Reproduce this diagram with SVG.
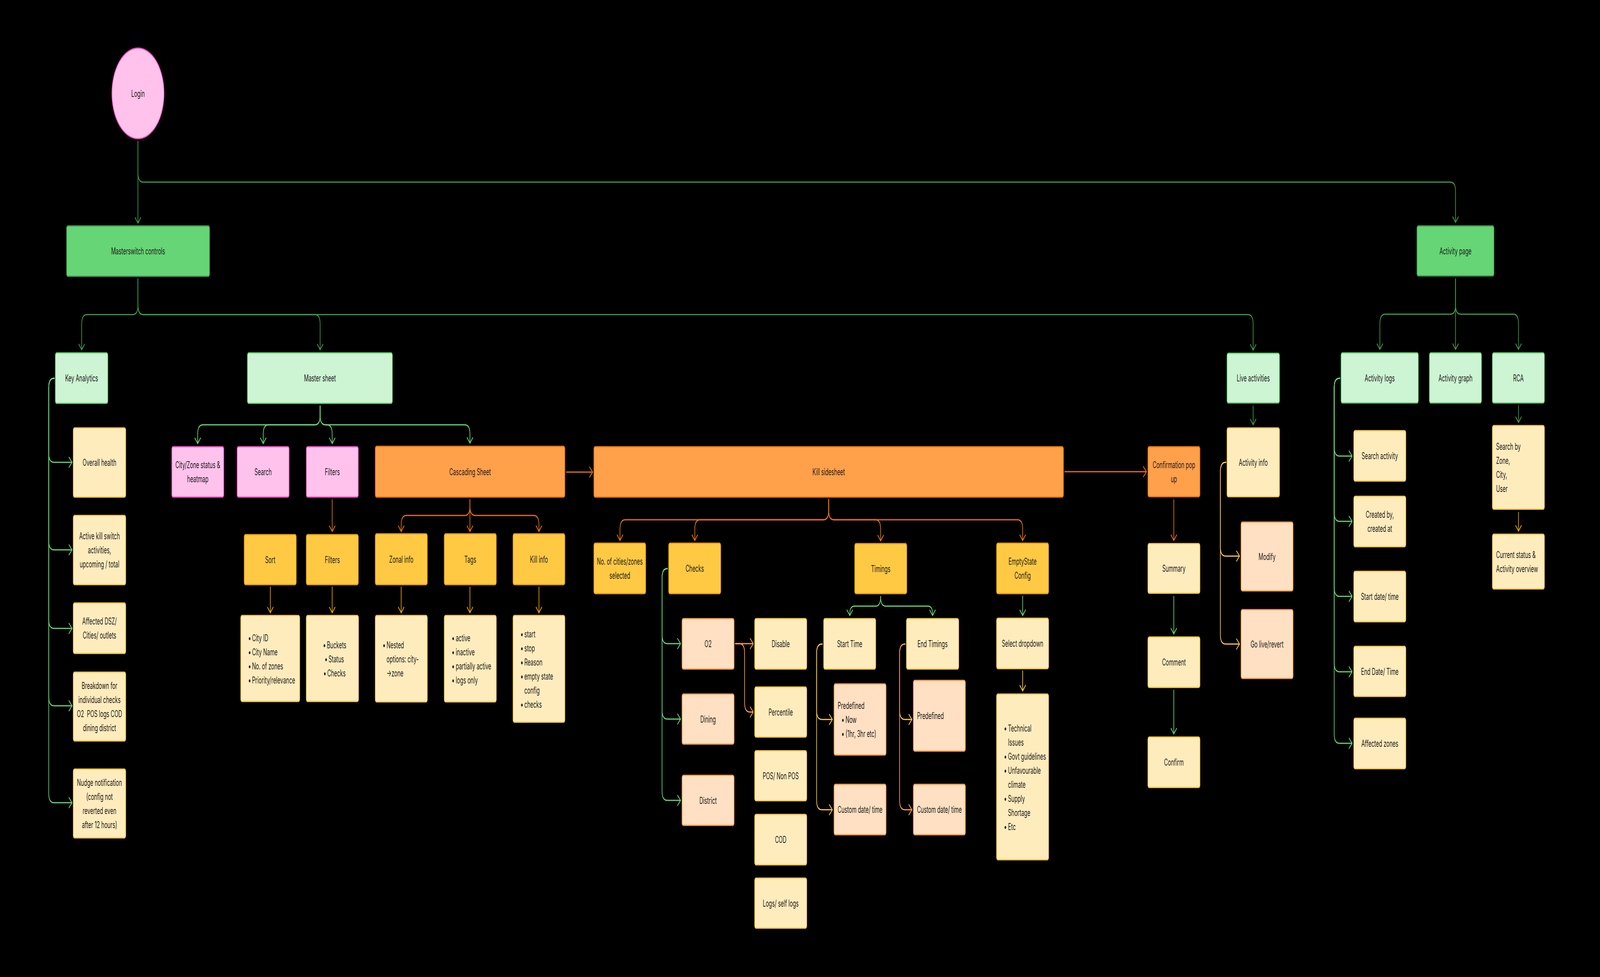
<svg xmlns="http://www.w3.org/2000/svg" width="7422" height="2500" viewBox="0 0 7422 2500" preserveAspectRatio="none">
<style>
svg{width:100vw;height:100vh;display:block}
text{font-family:Inter,"Noto Sans","Liberation Sans",sans-serif;font-size:24px;fill:#1e1e1e;dominant-baseline:central}
.c{text-anchor:middle}
.box{stroke-width:3}
.g{fill:#66D575;stroke:#3E9B4B}
.lg{fill:#CDF4D3;stroke:#66D575}
.pk{fill:#FFC2EC;stroke:#F849C1}
.or{fill:#FFA04A;stroke:#EB7500}
.ye{fill:#FFC943;stroke:#E8A302}
.ly{fill:#FFECBD;stroke:#FFC943}
.lo{fill:#FFE0C2;stroke:#FF9E42}
.ln{fill:none;stroke-width:3;stroke-linecap:round;stroke-linejoin:round}
.dg{stroke:#3E9B4B;marker-end:url(#m-dg)}
.lgc{stroke:#66D575;marker-end:url(#m-lg)}
.orc{stroke:#EB7500;marker-end:url(#m-or)}
.loc{stroke:#FF9E42;marker-end:url(#m-lo)}
.yec{stroke:#FFC943;marker-end:url(#m-ye)}
.amc{stroke:#E8A302;marker-end:url(#m-am)}
</style>
<defs>
<marker id="m-dg" markerUnits="userSpaceOnUse" markerWidth="34" markerHeight="34" refX="17" refY="15" orient="auto" overflow="visible"><path d="M3,2 L17,15 L3,28" fill="none" stroke="#3E9B4B" stroke-width="3" stroke-linecap="round" stroke-linejoin="round"/></marker>
<marker id="m-lg" markerUnits="userSpaceOnUse" markerWidth="34" markerHeight="34" refX="17" refY="15" orient="auto" overflow="visible"><path d="M3,2 L17,15 L3,28" fill="none" stroke="#66D575" stroke-width="3" stroke-linecap="round" stroke-linejoin="round"/></marker>
<marker id="m-or" markerUnits="userSpaceOnUse" markerWidth="34" markerHeight="34" refX="17" refY="15" orient="auto" overflow="visible"><path d="M3,2 L17,15 L3,28" fill="none" stroke="#EB7500" stroke-width="3" stroke-linecap="round" stroke-linejoin="round"/></marker>
<marker id="m-lo" markerUnits="userSpaceOnUse" markerWidth="34" markerHeight="34" refX="17" refY="15" orient="auto" overflow="visible"><path d="M3,2 L17,15 L3,28" fill="none" stroke="#FF9E42" stroke-width="3" stroke-linecap="round" stroke-linejoin="round"/></marker>
<marker id="m-ye" markerUnits="userSpaceOnUse" markerWidth="34" markerHeight="34" refX="17" refY="15" orient="auto" overflow="visible"><path d="M3,2 L17,15 L3,28" fill="none" stroke="#FFC943" stroke-width="3" stroke-linecap="round" stroke-linejoin="round"/></marker>
<marker id="m-am" markerUnits="userSpaceOnUse" markerWidth="34" markerHeight="34" refX="17" refY="15" orient="auto" overflow="visible"><path d="M3,2 L17,15 L3,28" fill="none" stroke="#E8A302" stroke-width="3" stroke-linecap="round" stroke-linejoin="round"/></marker>
</defs>
<rect x="0" y="0" width="7422" height="2500" fill="#000000"/>

<g id="connectors">
<path class="ln dg" d="M640,362 V571"/>
<path class="ln dg" d="M640,362 V442 Q640,466 664,466 H6728 Q6752,466 6752,490 V569"/>
<path class="ln dg" d="M640,714 V781 Q640,805 616,805 H403 Q379,805 379,829 V895"/>
<path class="ln dg" d="M640,714 V781 Q640,805 664,805 H1461 Q1485,805 1485,829 V895"/>
<path class="ln dg" d="M640,714 V781 Q640,805 664,805 H5789 Q5813,805 5813,829 V896"/>
<path class="ln dg" d="M6752,714 V780 Q6752,804 6728,804 H6425 Q6401,804 6401,828 V894"/>
<path class="ln dg" d="M6752,714 V894"/>
<path class="ln dg" d="M6752,714 V780 Q6752,804 6776,804 H7020 Q7044,804 7044,828 V894"/>
<path class="ln dg" d="M5813,1039 V1087"/>
<path class="ln dg" d="M7044,1038 V1081"/>
<path class="ln lgc" d="M252,968 H250 Q226,968 226,992 V1159 Q226,1183 250,1183 H334"/>
<path class="ln lgc" d="M252,968 H250 Q226,968 226,992 V1383 Q226,1407 250,1407 H334"/>
<path class="ln lgc" d="M252,968 H250 Q226,968 226,992 V1584 Q226,1608 250,1608 H334"/>
<path class="ln lgc" d="M252,968 H250 Q226,968 226,992 V1782 Q226,1806 250,1806 H334"/>
<path class="ln lgc" d="M252,968 H250 Q226,968 226,992 V2030 Q226,2054 250,2054 H334"/>
<path class="ln lgc" d="M1485,1039 V1063 Q1485,1087 1461,1087 H941 Q917,1087 917,1111 V1135"/>
<path class="ln lgc" d="M1485,1039 V1063 Q1485,1087 1461,1087 H1245 Q1221,1087 1221,1111 V1135"/>
<path class="ln lgc" d="M1485,1039 V1063 Q1485,1087 1509,1087 H1517 Q1541,1087 1541,1111 V1135"/>
<path class="ln lgc" d="M1485,1039 V1063 Q1485,1087 1509,1087 H2156 Q2180,1087 2180,1111 V1134"/>
<path class="ln lgc" d="M3096,1455 H3095 Q3071,1455 3071,1479 V1623 Q3071,1647 3095,1647 H3157"/>
<path class="ln lgc" d="M3096,1455 H3095 Q3071,1455 3071,1479 V1816 Q3071,1840 3095,1840 H3157"/>
<path class="ln lgc" d="M3096,1455 H3095 Q3071,1455 3071,1479 V2024 Q3071,2048 3095,2048 H3157"/>
<path class="ln lgc" d="M4085,1526 Q4085,1551 4062,1551 H3964 Q3942,1551 3942,1571 V1575"/>
<path class="ln lgc" d="M4085,1526 Q4085,1551 4108,1551 H4304 Q4326,1551 4326,1571 V1575"/>
<path class="ln lgc" d="M4744,1525 V1575"/>
<path class="ln lgc" d="M5445,1526 V1622"/>
<path class="ln lgc" d="M5445,1766 V1878"/>
<path class="ln lgc" d="M6215,968 H6213 Q6189,968 6189,992 V1143 Q6189,1167 6213,1167 H6272"/>
<path class="ln lgc" d="M6215,968 H6213 Q6189,968 6189,992 V1310 Q6189,1334 6213,1334 H6272"/>
<path class="ln lgc" d="M6215,968 H6213 Q6189,968 6189,992 V1502 Q6189,1526 6213,1526 H6272"/>
<path class="ln lgc" d="M6215,968 H6213 Q6189,968 6189,992 V1695 Q6189,1719 6213,1719 H6272"/>
<path class="ln lgc" d="M6215,968 H6213 Q6189,968 6189,992 V1878 Q6189,1902 6213,1902 H6272"/>
<path class="ln orc" d="M1541,1279 V1360"/>
<path class="ln orc" d="M2627,1208 H2749"/>
<path class="ln orc" d="M2180,1279 V1295 Q2180,1319 2156,1319 H1885 Q1861,1319 1861,1343 V1360"/>
<path class="ln orc" d="M2180,1279 V1360"/>
<path class="ln orc" d="M2180,1279 V1295 Q2180,1319 2204,1319 H2476 Q2500,1319 2500,1343 V1360"/>
<path class="ln orc" d="M3844,1278 V1306 Q3844,1330 3820,1330 H2900 Q2876,1330 2876,1354 V1383"/>
<path class="ln orc" d="M3844,1278 V1306 Q3844,1330 3820,1330 H3247 Q3223,1330 3223,1354 V1383"/>
<path class="ln orc" d="M3844,1278 V1306 Q3844,1330 3868,1330 H4061 Q4085,1330 4085,1354 V1384"/>
<path class="ln orc" d="M3844,1278 V1306 Q3844,1330 3868,1330 H4720 Q4744,1330 4744,1354 V1383"/>
<path class="ln orc" d="M4939,1207 H5318"/>
<path class="ln orc" d="M5445,1279 V1383"/>
<path class="ln loc" d="M3411,1647 H3494"/>
<path class="ln loc" d="M3411,1647 H3430 Q3454,1647 3454,1671 V1798 Q3454,1822 3478,1822 H3494"/>
<path class="ln yec" d="M3814,1648 H3812 Q3788,1648 3788,1672 V1817 Q3788,1841 3812,1841 H3861"/>
<path class="ln yec" d="M3814,1648 H3812 Q3788,1648 3788,1672 V2048 Q3788,2072 3812,2072 H3861"/>
<path class="ln yec" d="M4199,1648 H4197 Q4173,1648 4173,1672 V1817 Q4173,1841 4197,1841 H4230"/>
<path class="ln loc" d="M4199,1648 H4197 Q4173,1648 4173,1672 V2048 Q4173,2072 4197,2072 H4230"/>
<path class="ln yec" d="M4744,1717 V1768"/>
<path class="ln yec" d="M5687,1183 H5685 Q5661,1183 5661,1207 V1399 Q5661,1423 5685,1423 H5750"/>
<path class="ln yec" d="M5687,1183 H5685 Q5661,1183 5661,1207 V1624 Q5661,1648 5685,1648 H5750"/>
<path class="ln amc" d="M1254,1502 V1568"/>
<path class="ln amc" d="M1541,1502 V1568"/>
<path class="ln amc" d="M1861,1502 V1568"/>
<path class="ln amc" d="M2180,1502 V1568"/>
<path class="ln amc" d="M2500,1502 V1568"/>
<path class="ln amc" d="M7044,1311 V1359"/>
</g>

<g id="login"><ellipse class="box pk" cx="640" cy="239" rx="121" ry="116"/><text class="c" x="640" y="239">Login</text></g>
<g id="masterswitch"><rect class="box g" x="309" y="578" width="663" height="129" rx="6"/><text class="c" x="640.5" y="642.5">Masterswitch controls</text></g>

<g id="key-analytics"><rect class="box lg" x="257" y="903" width="243" height="129" rx="6"/><text class="c" x="378.5" y="967.5">Key Analytics</text></g>
<g id="overall-health"><rect class="box ly" x="340" y="1095" width="243" height="177" rx="6"/><text class="c" x="461.5" y="1183.5">Overall health</text></g>
<g id="active-kill"><rect class="box ly" x="340" y="1319" width="243" height="177" rx="6"/><text class="c" x="461.5"><tspan x="461.5" y="1371.5">Active kill switch</tspan><tspan x="461.5" y="1407.5">activities,</tspan><tspan x="461.5" y="1443.5">upcoming / total</tspan></text></g>
<g id="affected-dsz"><rect class="box ly" x="340" y="1543" width="243" height="129" rx="6"/><text class="c" x="461.5"><tspan x="461.5" y="1589.5">Affected DSZ/</tspan><tspan x="461.5" y="1625.5">Cities/ outlets</tspan></text></g>
<g id="breakdown"><rect class="box ly" x="340" y="1720" width="243" height="176" rx="6"/><text class="c" x="461.5" xml:space="preserve"><tspan x="461.5" y="1754">Breakdown for</tspan><tspan x="461.5" y="1790">individual checks</tspan><tspan x="461.5" y="1826">O2  POS logs COD</tspan><tspan x="461.5" y="1862">dining district</tspan></text></g>
<g id="nudge"><rect class="box ly" x="340" y="1968" width="243" height="176" rx="6"/><text class="c" x="461.5"><tspan x="461.5" y="2002">Nudge notification</tspan><tspan x="461.5" y="2038">(config not</tspan><tspan x="461.5" y="2074">reverted even</tspan><tspan x="461.5" y="2110">after 12 hours)</tspan></text></g>

<g id="master-sheet"><rect class="box lg" x="1148" y="903" width="672" height="129" rx="6"/><text class="c" x="1484" y="967.5">Master sheet</text></g>
<g id="city-zone"><rect class="box pk" x="797" y="1143" width="241" height="129" rx="6"/><text class="c" x="917.5"><tspan x="917.5" y="1189.5">City/Zone status &amp;</tspan><tspan x="917.5" y="1225.5">heatmap</tspan></text></g>
<g id="search"><rect class="box pk" x="1100" y="1143" width="241" height="129" rx="6"/><text class="c" x="1220.5" y="1207.5">Search</text></g>
<g id="filters-pink"><rect class="box pk" x="1421" y="1143" width="241" height="129" rx="6"/><text class="c" x="1541.5" y="1207.5">Filters</text></g>
<g id="cascading"><rect class="box or" x="1741" y="1142" width="879" height="130" rx="6"/><text class="c" x="2180.5" y="1207">Cascading Sheet</text></g>
<g id="sort"><rect class="box ye" x="1133" y="1368" width="241" height="128" rx="6"/><text class="c" x="1253.5" y="1432">Sort</text></g>
<g id="filters-yellow"><rect class="box ye" x="1421" y="1368" width="241" height="128" rx="6"/><text class="c" x="1541.5" y="1432">Filters</text></g>
<g id="zonal-info"><rect class="box ye" x="1741" y="1366" width="241" height="130" rx="6"/><text class="c" x="1861.5" y="1431">Zonal info</text></g>
<g id="tags"><rect class="box ye" x="2061" y="1366" width="241" height="130" rx="6"/><text class="c" x="2181.5" y="1431">Tags</text></g>
<g id="kill-info"><rect class="box ye" x="2380" y="1366" width="240" height="130" rx="6"/><text class="c" x="2500" y="1431">Kill info</text></g>

<g id="sort-list"><rect class="box ly" x="1117" y="1575" width="273" height="220" rx="6"/>
<text x="1151" y="1632">•</text><text x="1169" y="1632">City ID</text>
<text x="1151" y="1668">•</text><text x="1169" y="1668">City Name</text>
<text x="1151" y="1704">•</text><text x="1169" y="1704">No. of zones</text>
<text x="1151" y="1740">•</text><text x="1169" y="1740">Priority/relevance</text></g>
<g id="filters-list"><rect class="box ly" x="1421" y="1575" width="242" height="220" rx="6"/>
<text x="1498" y="1650">•</text><text x="1516" y="1650">Buckets</text>
<text x="1506" y="1686">•</text><text x="1524" y="1686">Status</text>
<text x="1500" y="1722">•</text><text x="1518" y="1722">Checks</text></g>
<g id="zonal-list"><rect class="box ly" x="1741" y="1575" width="241" height="221" rx="6"/>
<text x="1775" y="1650">•</text><text x="1793" y="1650">Nested</text>
<text x="1793" y="1686">options: city-</text>
<text x="1793" y="1722">→zone</text></g>
<g id="tags-list"><rect class="box ly" x="2061" y="1575" width="241" height="221" rx="6"/>
<text x="2095" y="1632">•</text><text x="2114" y="1632">active</text>
<text x="2095" y="1668">•</text><text x="2114" y="1668">inactive</text>
<text x="2095" y="1704">•</text><text x="2114" y="1704">partially active</text>
<text x="2095" y="1740">•</text><text x="2114" y="1740">logs only</text></g>
<g id="kill-info-list"><rect class="box ly" x="2380" y="1575" width="240" height="273" rx="6"/>
<text x="2414" y="1622">•</text><text x="2432" y="1622">start</text>
<text x="2414" y="1658">•</text><text x="2432" y="1658">stop</text>
<text x="2414" y="1694">•</text><text x="2432" y="1694">Reason</text>
<text x="2414" y="1730">•</text><text x="2432" y="1730">empty state</text>
<text x="2432" y="1766">config</text>
<text x="2414" y="1802">•</text><text x="2432" y="1802">checks</text></g>

<g id="kill-sidesheet"><rect class="box or" x="2755" y="1143" width="2178" height="129" rx="6"/><text class="c" x="3844" y="1207.5">Kill sidesheet</text></g>
<g id="no-cities"><rect class="box ye" x="2755" y="1390" width="240" height="129" rx="6"/><text class="c" x="2875"><tspan x="2875" y="1436.5">No. of cities/zones</tspan><tspan x="2875" y="1472.5">selected</tspan></text></g>
<g id="checks"><rect class="box ye" x="3102" y="1390" width="241" height="129" rx="6"/><text class="c" x="3222.5" y="1454.5">Checks</text></g>
<g id="o2"><rect class="box lo" x="3164" y="1583" width="241" height="129" rx="6"/><text class="c" x="3284.5" y="1647.5">O2</text></g>
<g id="dining"><rect class="box lo" x="3164" y="1776" width="241" height="128" rx="6"/><text class="c" x="3284.5" y="1840">Dining</text></g>
<g id="district"><rect class="box lo" x="3164" y="1984" width="241" height="128" rx="6"/><text class="c" x="3284.5" y="2048">District</text></g>
<g id="disable"><rect class="box ly" x="3501" y="1583" width="241" height="129" rx="6"/><text class="c" x="3621.5" y="1647.5">Disable</text></g>
<g id="percentile"><rect class="box ly" x="3501" y="1758" width="241" height="128" rx="6"/><text class="c" x="3621.5" y="1822">Percentile</text></g>
<g id="pos"><rect class="box ly" x="3501" y="1921" width="241" height="128" rx="6"/><text class="c" x="3621.5" y="1985">POS/ Non POS</text></g>
<g id="cod"><rect class="box ly" x="3501" y="2084" width="241" height="129" rx="6"/><text class="c" x="3621.5" y="2148.5">COD</text></g>
<g id="logs"><rect class="box ly" x="3501" y="2247" width="241" height="128" rx="6"/><text class="c" x="3621.5" y="2311">Logs/ self logs</text></g>

<g id="timings"><rect class="box ye" x="3965" y="1391" width="241" height="128" rx="6"/><text class="c" x="4085.5" y="1455">Timings</text></g>
<g id="start-time"><rect class="box ly" x="3821" y="1583" width="241" height="129" rx="6"/><text class="c" x="3941.5" y="1647.5">Start Time</text></g>
<g id="end-timings"><rect class="box ly" x="4205" y="1583" width="242" height="129" rx="6"/><text class="c" x="4326" y="1647.5">End Timings</text></g>
<g id="predefined-start"><rect class="box lo" x="3869" y="1750" width="241" height="182" rx="6"/>
<text x="3886" y="1805">Predefined</text>
<text x="3903" y="1841">•</text><text x="3922" y="1841">Now</text>
<text x="3903" y="1877">•</text><text x="3922" y="1877">(1hr, 3hr etc)</text></g>
<g id="custom-start"><rect class="box lo" x="3869" y="2007" width="241" height="129" rx="6"/><text class="c" x="3989.5" y="2071.5">Custom date/ time</text></g>
<g id="predefined-end"><rect class="box lo" x="4237" y="1741" width="241" height="181" rx="6"/><text x="4254" y="1831.5">Predefined</text></g>
<g id="custom-end"><rect class="box lo" x="4237" y="2007" width="241" height="129" rx="6"/><text class="c" x="4357.5" y="2071.5">Custom date/ time</text></g>

<g id="emptystate"><rect class="box ye" x="4623" y="1390" width="241" height="129" rx="6"/><text class="c" x="4743.5"><tspan x="4743.5" y="1436.5">EmptyState</tspan><tspan x="4743.5" y="1472.5">Config</tspan></text></g>
<g id="select-dropdown"><rect class="box ly" x="4623" y="1582" width="241" height="129" rx="6"/><text class="c" x="4743.5" y="1646.5">Select dropdown</text></g>
<g id="reasons-list"><rect class="box ly" x="4623" y="1776" width="241" height="424" rx="6"/>
<text x="4657" y="1863">•</text><text x="4676" y="1863">Technical</text>
<text x="4676" y="1899">Issues</text>
<text x="4657" y="1935">•</text><text x="4676" y="1935">Govt guidelines</text>
<text x="4657" y="1971">•</text><text x="4676" y="1971">Unfavourable</text>
<text x="4676" y="2007">climate</text>
<text x="4657" y="2043">•</text><text x="4676" y="2043">Supply</text>
<text x="4676" y="2079">Shortage</text>
<text x="4657" y="2115">•</text><text x="4676" y="2115">Etc</text></g>

<g id="confirmation"><rect class="box or" x="5325" y="1143" width="241" height="128" rx="6"/><text class="c" x="5445.5"><tspan x="5445.5" y="1189">Confirmation pop</tspan><tspan x="5445.5" y="1225">up</tspan></text></g>
<g id="summary"><rect class="box ly" x="5325" y="1391" width="241" height="127" rx="6"/><text class="c" x="5445.5" y="1454.5">Summary</text></g>
<g id="comment"><rect class="box ly" x="5325" y="1630" width="241" height="129" rx="6"/><text class="c" x="5445.5" y="1694.5">Comment</text></g>
<g id="confirm"><rect class="box ly" x="5325" y="1886" width="241" height="129" rx="6"/><text class="c" x="5445.5" y="1950.5">Confirm</text></g>

<g id="live-activities"><rect class="box lg" x="5692" y="904" width="243" height="127" rx="6"/><text class="c" x="5813.5" y="967.5">Live activities</text></g>
<g id="activity-info"><rect class="box ly" x="5692" y="1095" width="243" height="176" rx="6"/><text class="c" x="5813.5" y="1183">Activity info</text></g>
<g id="modify"><rect class="box lo" x="5757" y="1336" width="241" height="176" rx="6"/><text class="c" x="5877.5" y="1424">Modify</text></g>
<g id="go-live"><rect class="box lo" x="5757" y="1560" width="241" height="176" rx="6"/><text class="c" x="5877.5" y="1648">Go live/revert</text></g>

<g id="activity-page"><rect class="box g" x="6573" y="578" width="357" height="128" rx="6"/><text class="c" x="6751.5" y="642">Activity page</text></g>
<g id="activity-logs"><rect class="box lg" x="6221" y="903" width="358" height="128" rx="6"/><text class="c" x="6400" y="967">Activity logs</text></g>
<g id="activity-graph"><rect class="box lg" x="6631" y="903" width="241" height="128" rx="6"/><text class="c" x="6751.5" y="967">Activity graph</text></g>
<g id="rca"><rect class="box lg" x="6923" y="903" width="241" height="128" rx="6"/><text class="c" x="7043.5" y="967">RCA</text></g>
<g id="search-activity"><rect class="box ly" x="6280" y="1102" width="241" height="129" rx="6"/><text class="c" x="6400.5" y="1166.5">Search activity</text></g>
<g id="created-by"><rect class="box ly" x="6280" y="1270" width="241" height="129" rx="6"/><text class="c" x="6400.5"><tspan x="6400.5" y="1316.5">Created by,</tspan><tspan x="6400.5" y="1352.5">created at</tspan></text></g>
<g id="start-date"><rect class="box ly" x="6280" y="1462" width="241" height="129" rx="6"/><text class="c" x="6400.5" y="1526.5">Start date/ time</text></g>
<g id="end-date"><rect class="box ly" x="6280" y="1654" width="241" height="128" rx="6"/><text class="c" x="6400.5" y="1718">End Date/ Time</text></g>
<g id="affected-zones"><rect class="box ly" x="6280" y="1838" width="241" height="129" rx="6"/><text class="c" x="6400.5" y="1902.5">Affected zones</text></g>
<g id="search-by"><rect class="box ly" x="6923" y="1089" width="241" height="214" rx="6"/>
<text x="6940" y="1142">Search by</text><text x="6940" y="1178">Zone,</text><text x="6940" y="1214">City,</text><text x="6940" y="1250">User</text></g>
<g id="current-status"><rect class="box ly" x="6923" y="1367" width="241" height="140" rx="6"/>
<text x="6940" y="1419">Current status &amp;</text><text x="6940" y="1455">Activity overview</text></g>
</svg>
